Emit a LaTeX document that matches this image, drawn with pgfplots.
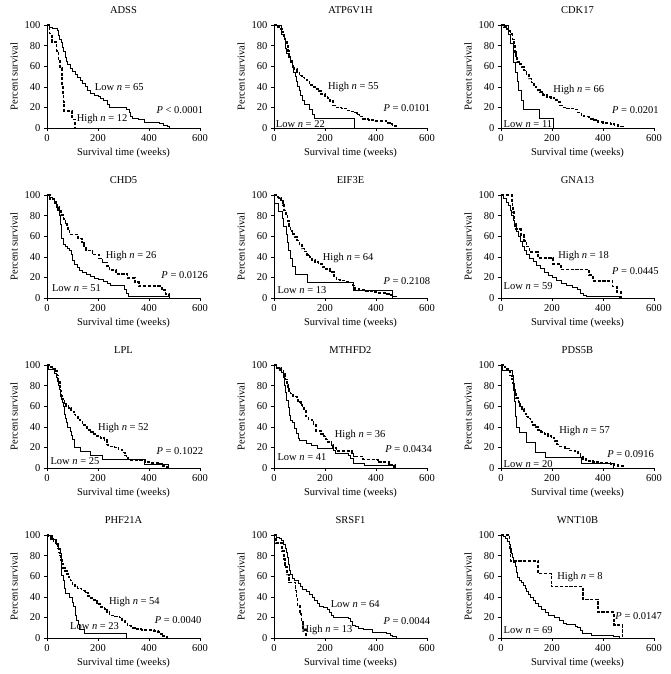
\documentclass[border=0pt]{standalone}
\usepackage{fontspec}
\setmainfont{Liberation Serif}
\usepackage{pgfplots}
\pgfplotsset{compat=1.18}
\usepgfplotslibrary{groupplots}

\newcommand{\fs}{\fontsize{10.5}{12}\selectfont}
\pgfplotsset{
  km/.style={
    scale only axis, width=153pt, height=103pt,
    xmin=0, xmax=600, ymin=0, ymax=100,
    xtick={0,200,400,600}, ytick={0,20,...,100},
    axis lines=left, axis line style={-, line width=0.5pt},
    tick align=outside, major tick length=3pt,
    tick style={black, line width=0.5pt},
    clip=false,
    /pgf/number format/assume math mode=true,
    tick label style={font=\fs},
    label style={font=\fs},
    title style={font=\fs, yshift=2pt},
    xlabel={Survival time (weeks)},
    ylabel={Percent survival},
  },
  hi/.style={const plot, no marks, black, line width=1.6pt, dash pattern=on 3.2pt off 1.6pt},
  lo/.style={const plot, no marks, black, line width=0.6pt},
}
\tikzset{lab/.style={anchor=west, inner sep=0pt, font=\fs},
         pv/.style={anchor=east, inner sep=0pt, font=\fs}}

\begin{document}
\begin{tikzpicture}
\begin{groupplot}[group style={group size=3 by 4, horizontal sep=74pt, vertical sep=67pt, group name=g}, km]

% ADSS
\nextgroupplot[title=ADSS]
\addplot[lo] coordinates {(0,100)(8,98)(20,97)(40,95)(45,90)(50,86)(55,83)(60,78)(65,74)(70,69)(75,65)(80,62)(90,58)(100,55)(110,52)(120,49)(130,46)(140,43)(150,40)(160,37)(170,34)(185,32)(200,31)(210,29)(220,27)(235,23)(245,20)(300,20)(310,18)(322,15)(328,11)(335,9)(360,8)(380,6)(440,5)(455,3)(470,2)(480,0)};
\addplot[hi] coordinates {(0,100)(10,91.7)(19,83.3)(38,75)(45,66.7)(52,58.3)(58,50)(60,41.7)(62,33.3)(64,25)(66,16.7)(98,8.3)(110,0)};
\node[lab] at (axis cs:187,40) {Low \textit{n} = 65};
\node[lab] at (axis cs:116,9) {High \textit{n} = 12};
\node[pv] at (axis cs:613,17) {\textit{P} < 0.0001};

% ATP6V1H
\nextgroupplot[title=ATP6V1H]
\addplot[hi] coordinates {(0,100)(10,98)(25,96)(32,93)(38,89)(45,85)(50,80)(55,75)(60,70)(65,65)(72,60)(80,57)(90,54)(100,51)(110,49)(120,47)(130,45)(140,42)(150,40)(160,38)(175,36)(185,33)(200,31)(210,29)(220,26)(232,22)(245,20)(265,19)(285,17)(300,16)(315,15)(325,13)(335,11)(350,9)(370,8)(395,7)(430,7)(440,5)(455,4)(465,2)(478,0)};
\addplot[lo] coordinates {(0,100)(28,90.9)(40,86.4)(45,77.3)(48,72.7)(55,68.2)(65,63.6)(70,59.1)(75,54.5)(82,50)(88,45.5)(92,40.9)(100,36.4)(105,31.8)(112,27.3)(120,22.7)(140,18.2)(150,13.6)(158,9.1)(315,0)};
\node[lab] at (axis cs:211,40) {High \textit{n} = 55};
\node[lab] at (axis cs:7,4) {Low \textit{n} = 22};
\node[pv] at (axis cs:613,19) {\textit{P} = 0.0101};

% CDK17
\nextgroupplot[title=CDK17]
\addplot[hi] coordinates {(0,100)(12,98)(20,96)(30,94)(38,91)(45,86)(50,80)(54,74)(58,68)(62,64)(70,62)(80,59)(90,56)(100,52)(110,48)(120,44)(130,40)(140,37)(152,35)(165,32)(180,30)(195,29)(210,27)(222,25)(232,22)(240,20)(260,19)(285,18)(300,15)(315,12)(325,11)(345,9)(360,8)(380,6)(400,5)(430,4)(445,3)(460,1.5)(478,0)};
\addplot[lo] coordinates {(0,100)(28,90.9)(38,81.8)(48,72.7)(50,63.6)(56,54.5)(62,45.5)(68,36.4)(78,27.3)(88,18.2)(152,9.1)(205,0)};
\node[lab] at (axis cs:205,37) {High \textit{n} = 66};
\node[lab] at (axis cs:10,4) {Low \textit{n} = 11};
\node[pv] at (axis cs:619,17) {\textit{P} = 0.0201};

% CHD5
\nextgroupplot[title=CHD5]
\addplot[hi] coordinates {(0,100)(12,96.2)(30,92.3)(40,88.5)(48,84.6)(55,80.8)(65,76.9)(72,73.1)(78,69.2)(82,65.4)(88,61.5)(122,57.7)(138,53.8)(145,50)(152,46.2)(178,42.3)(205,38.5)(218,34.6)(235,30.8)(245,26.9)(270,23.1)(315,19.2)(345,15.4)(360,11.5)(450,7.7)(465,3.8)(478,0)};
\addplot[lo] coordinates {(0,100)(8,98)(20,96)(30,94)(38,90)(42,85)(47,80)(52,72)(55,65)(58,58)(62,52)(70,50)(78,48)(88,46)(95,42)(100,37)(108,33)(118,30)(128,27)(140,25)(155,23)(170,21)(185,19)(200,18)(220,16)(235,14)(248,12)(300,12)(305,8)(310,5)(318,2)(470,2)(478,0)};
\node[lab] at (axis cs:230,41) {High \textit{n} = 26};
\node[lab] at (axis cs:19,10) {Low \textit{n} = 51};
\node[pv] at (axis cs:632,22) {\textit{P} = 0.0126};

% EIF3E
\nextgroupplot[title=EIF3E]
\addplot[hi] coordinates {(0,100)(8,98)(18,97)(28,95)(35,90)(40,85)(47,80)(53,75)(58,70)(64,65)(72,62)(80,59)(90,56)(100,52)(110,48)(120,45)(130,42)(140,40)(150,37)(160,35)(175,33)(190,30)(205,28)(220,25)(235,21)(245,18)(260,17)(280,16)(300,15)(310,12)(318,9)(335,8)(360,7)(390,6)(410,5)(440,4)(455,3)(465,1.5)(478,0)};
\addplot[lo] coordinates {(0,100)(3,92.3)(15,84.6)(32,76.9)(35,69.2)(48,61.5)(52,53.8)(56,46.2)(65,38.5)(72,30.8)(85,23.1)(132,15.4)(312,7.7)(465,0)};
\node[lab] at (axis cs:191,39) {High \textit{n} = 64};
\node[lab] at (axis cs:13,7.5) {Low \textit{n} = 13};
\node[pv] at (axis cs:613,16) {\textit{P} = 0.2108};

% GNA13
\nextgroupplot[title=GNA13]
\addplot[hi] coordinates {(0,100)(42,94.4)(45,88.9)(48,83.3)(50,77.8)(53,72.2)(58,66.7)(78,61.1)(90,55.6)(100,50)(112,44.4)(145,38.9)(205,33.3)(235,27.8)(345,22.2)(360,16.7)(438,11.1)(455,5.6)(470,0)};
\addplot[lo] coordinates {(0,100)(10,97)(20,93)(28,90)(35,85)(42,80)(48,75)(54,70)(60,65)(68,60)(75,55)(82,50)(90,46)(100,42)(110,39)(125,36)(140,32)(155,29)(170,25)(185,22)(200,20)(218,17)(235,14)(255,12)(280,10)(300,8)(312,5)(322,3)(335,1.7)(465,0)};
\node[lab] at (axis cs:224,41) {High \textit{n} = 18};
\node[lab] at (axis cs:10,12) {Low \textit{n} = 59};
\node[pv] at (axis cs:619,26) {\textit{P} = 0.0445};

% LPL
\nextgroupplot[title=LPL]
\addplot[hi] coordinates {(0,100)(10,98)(22,96)(35,94)(40,90)(45,85)(50,80)(53,75)(56,70)(60,67)(68,63)(75,60)(85,58)(95,55)(105,52)(112,50)(122,47)(130,45)(140,42)(148,40)(158,37)(170,35)(180,33)(195,31)(210,29)(225,27)(235,23)(240,21)(265,20)(280,18)(295,15)(305,12)(312,10)(320,8)(350,8)(385,6)(410,5)(440,4)(455,2)(470,0)};
\addplot[lo] coordinates {(0,100)(5,96)(28,92)(38,88)(42,84)(45,80)(50,76)(54,72)(57,68)(60,64)(63,60)(66,56)(68,52)(72,48)(75,44)(78,40)(92,36)(96,32)(100,28)(106,20)(130,16)(168,12)(215,8)(380,4)(475,0)};
\node[lab] at (axis cs:200,39) {High \textit{n} = 52};
\node[lab] at (axis cs:13,6.5) {Low \textit{n} = 25};
\node[pv] at (axis cs:613,16) {\textit{P} = 0.1022};

% MTHFD2
\nextgroupplot[title=MTHFD2]
\addplot[hi] coordinates {(0,100)(10,97.2)(28,94.4)(38,91.7)(42,88.9)(45,86.1)(50,80.6)(55,77.8)(60,75)(65,72.2)(75,69.4)(90,66.7)(95,63.9)(105,61.1)(112,58.3)(118,55.6)(125,50)(135,47.2)(150,44.4)(155,41.7)(165,36.1)(185,33.3)(195,30.6)(205,27.8)(212,25)(225,22.2)(232,19.4)(245,16.7)(305,13.9)(312,11.1)(350,8.3)(408,5.6)(450,2.8)(475,0)};
\addplot[lo] coordinates {(0,100)(8,97.6)(20,95.1)(28,92.7)(35,87.8)(40,80.5)(45,73.2)(50,65.9)(55,58.5)(60,51.2)(65,46.3)(72,43.9)(80,39)(88,34.1)(95,29.3)(100,26.8)(125,24.4)(145,22)(170,19.5)(232,17.1)(240,14.6)(290,12.2)(300,9.8)(312,4.9)(355,2.4)(468,0)};
\node[lab] at (axis cs:238,32) {High \textit{n} = 36};
\node[lab] at (axis cs:13,11) {Low \textit{n} = 41};
\node[pv] at (axis cs:620,18) {\textit{P} = 0.0434};

% PDS5B
\nextgroupplot[title=PDS5B]
\addplot[hi] coordinates {(0,100)(8,98)(18,96)(30,94)(36,90)(42,86)(48,82)(52,77)(55,72)(60,68)(68,64)(75,60)(82,57)(90,53)(98,50)(105,48)(115,45)(122,42)(135,40)(145,37)(158,35)(170,33)(185,31)(198,29)(210,26)(220,23)(230,21)(250,19)(270,17)(290,16)(302,14)(312,11)(322,9)(334,7)(360,6)(380,5)(430,4)(445,3)(460,2)(478,0)};
\addplot[lo] coordinates {(0,100)(5,95)(45,90)(48,85)(50,75)(54,65)(57,50)(60,40)(70,35)(101,25)(133,15)(172,10)(315,5)(440,0)};
\node[lab] at (axis cs:228,36) {High \textit{n} = 57};
\node[lab] at (axis cs:10,4) {Low \textit{n} = 20};
\node[pv] at (axis cs:600,14) {\textit{P} = 0.0916};

% PHF21A
\nextgroupplot[title=PHF21A]
\addplot[hi] coordinates {(0,100)(5,98)(15,96)(25,94)(35,91)(42,87)(48,83)(52,80)(55,76)(58,72)(63,68)(70,65)(78,62)(85,59)(92,56)(100,52)(110,50)(120,48)(135,46)(150,44)(160,41)(172,39)(182,37)(195,33)(210,30)(225,28)(235,25)(245,22)(265,21)(285,20)(295,17)(305,15)(315,12)(330,10)(345,9)(370,8)(420,7)(435,6)(445,4)(455,2)(470,0)};
\addplot[lo] coordinates {(0,100)(20,95.7)(35,91.3)(45,87)(52,82.6)(56,73.9)(58,60.9)(62,56.5)(66,47.8)(72,43.5)(88,39.1)(98,34.8)(103,30.4)(110,21.7)(116,17.4)(122,13)(128,8.7)(145,4.3)(310,0)};
\node[lab] at (axis cs:243,35) {High \textit{n} = 54};
\node[lab] at (axis cs:90,12) {Low \textit{n} = 23};
\node[pv] at (axis cs:606,17) {\textit{P} = 0.0040};

% SRSF1
\nextgroupplot[title=SRSF1]
\addplot[lo] coordinates {(0,100)(8,98)(20,97)(30,95)(38,91)(45,87)(50,83)(53,78)(56,72)(60,66)(65,62)(70,58)(80,56)(95,53)(105,50)(112,47)(125,45)(140,42)(150,40)(158,37)(168,34)(178,31)(195,30)(210,28)(218,25)(225,22)(232,20)(290,19)(300,16)(308,12)(318,11)(330,9)(350,8)(385,6)(440,5)(455,3)(465,1.5)(478,0)};
\addplot[hi] coordinates {(0,100)(8,92.3)(32,84.6)(40,76.9)(43,69.2)(52,61.5)(60,53.8)(85,46.2)(88,38.5)(92,30.8)(102,23.1)(108,15.4)(113,7.7)(125,0)};
\node[lab] at (axis cs:222,33) {Low \textit{n} = 64};
\node[lab] at (axis cs:108,8) {High \textit{n} = 13};
\node[pv] at (axis cs:613,16) {\textit{P} = 0.0044};

% WNT10B
\nextgroupplot[title=WNT10B]
\addplot[hi] coordinates {(0,100)(34,87.5)(38,75)(146,62.5)(198,50)(321,37.5)(380,25)(444,12.5)(477,0)};
\addplot[lo] coordinates {(0,100)(8,98.6)(18,97.1)(26,94.2)(32,91.3)(36,87)(40,82.6)(45,78.3)(50,73.9)(55,69.6)(60,63.8)(65,59.4)(72,56.5)(80,53.6)(88,50.7)(95,47.8)(100,44.9)(108,42)(115,39.1)(125,36.2)(135,33.3)(145,30.4)(158,27.5)(172,24.6)(185,21.7)(210,20.3)(230,17.4)(245,14.5)(255,13)(290,11.6)(300,10.1)(310,7.2)(320,4.3)(355,2.9)(440,1.4)(465,0)};
\node[lab] at (axis cs:220,59) {High \textit{n} = 8};
\node[lab] at (axis cs:10,8) {Low \textit{n} = 69};
\node[pv] at (axis cs:632,21) {\textit{P} = 0.0147};

\end{groupplot}
\path (g c1r1.north west) ++(-47pt,25pt) coordinate (tl);
\useasboundingbox (tl) rectangle ++(671pt,-674pt);
\end{tikzpicture}
\end{document}
